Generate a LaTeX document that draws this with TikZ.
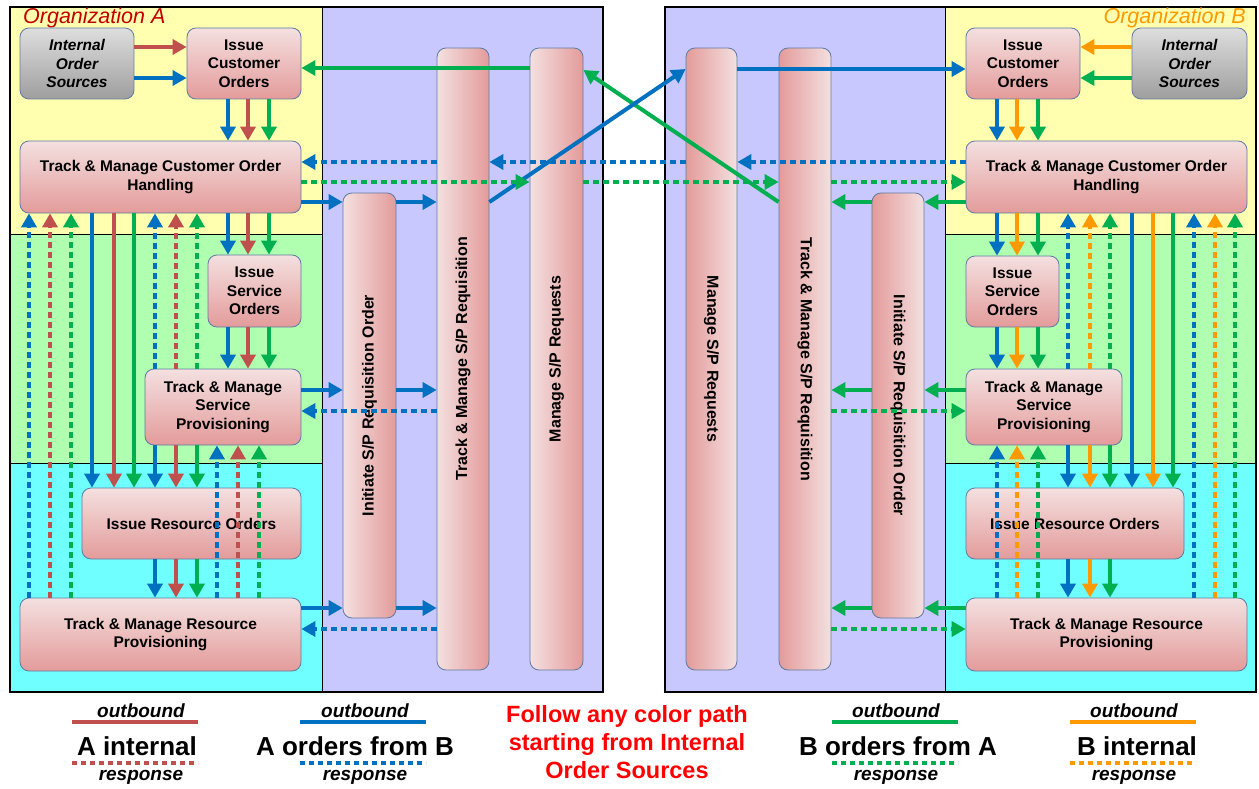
\documentclass[tikz,border=0pt]{standalone}
\usepackage{fontspec}
\setmainfont{Liberation Sans}
\usetikzlibrary{arrows.meta}
\definecolor{cblue}{HTML}{0070C0}
\definecolor{cred}{HTML}{C0504D}
\definecolor{cgreen}{HTML}{00B050}
\definecolor{corange}{HTML}{FF9900}
\definecolor{bgyellow}{HTML}{FFFFAF}
\definecolor{bggreen}{HTML}{B0FFB0}
\definecolor{bgcyan}{HTML}{70FFFF}
\definecolor{bgpurple}{HTML}{C8C8FF}
\definecolor{pinkT}{HTML}{F4E0E0}
\definecolor{pinkB}{HTML}{E39B9A}
\definecolor{grayT}{HTML}{DEDEDE}
\definecolor{grayB}{HTML}{9E9E9E}
\definecolor{edge}{HTML}{5F7BA3}
\definecolor{orgAcol}{HTML}{C00000}
\begin{document}
\begin{tikzpicture}[x=1pt,y=-1pt,
  box/.style={rectangle, rounded corners=9pt, draw=edge, line width=0.8pt,
    top color=pinkT, bottom color=pinkB, inner sep=2pt, align=center,
    font=\bfseries\fontsize{15.5}{18.5}\selectfont},
  srcbox/.style={box, top color=grayT, bottom color=grayB,
    font=\bfseries\itshape\fontsize{15.5}{18.5}\selectfont},
  barL/.style={rectangle, rounded corners=9pt, draw=edge, line width=0.8pt,
    left color=pinkT, right color=pinkB, inner sep=0pt},
  barR/.style={barL, left color=pinkB, right color=pinkT},
  bartext/.style={font=\bfseries\fontsize{16}{18}\selectfont, inner sep=0pt},
  arrowtip/.style={-{Triangle[length=14pt,width=15pt]}},
  sol/.style={line width=4pt, arrowtip},
  dotl/.style={line width=4pt, dash pattern=on 5.5pt off 4.5pt, arrowtip},
  lgsmall/.style={font=\bfseries\itshape\fontsize{19}{19}\selectfont, inner sep=0pt},
  lgbig/.style={font=\bfseries\fontsize{26}{26}\selectfont, inner sep=0pt},
  lgline/.style={line width=4.5pt},
  lgdots/.style={line width=4.5pt, dash pattern=on 5pt off 4pt}
]
\useasboundingbox (0,0) rectangle (1259,789);

% ---------- panels ----------
\fill[bgyellow] (10,7) rectangle (322,234);
\fill[bggreen]  (10,234) rectangle (322,463);
\fill[bgcyan]   (10,463) rectangle (322,692);
\fill[bgpurple] (322,7) rectangle (603,692);
\fill[bgpurple] (665,7) rectangle (945,692);
\fill[bgyellow] (945,7) rectangle (1256,234);
\fill[bggreen]  (945,234) rectangle (1256,463);
\fill[bgcyan]   (945,463) rectangle (1256,692);
\draw[line width=1.2pt] (10,7) rectangle (603,692);
\draw[line width=1.2pt] (665,7) rectangle (1256,692);
\draw[line width=1pt] (322,7) -- (322,692) (10,234) -- (322,234) (10,463) -- (322,463);
\draw[line width=1pt] (945,7) -- (945,692) (945,234) -- (1256,234) (945,463) -- (1256,463);

\node[anchor=west, inner sep=0pt, text=orgAcol, font=\itshape\fontsize{21.5}{21.5}\selectfont] (orgA) at (23,18) {Organization A};
\node[anchor=east, inner sep=0pt, text=corange, font=\itshape\fontsize{21.5}{21.5}\selectfont] (orgB) at (1246,18) {Organization B};

% ---------- organization A ----------
\node[srcbox, minimum width=114pt, minimum height=71pt] (iosA) at (77,63.5) {Internal\\Order\\Sources};
\node[box, minimum width=114pt, minimum height=71pt] (icoA) at (244,63.5) {Issue\\Customer\\Orders};
\node[box, minimum width=281pt, minimum height=72pt] (tmcA) at (160.5,177) {Track \& Manage Customer Order\\Handling};
\node[box, minimum width=93pt, minimum height=72pt] (isoA) at (254.5,291) {Issue\\Service\\Orders};
\node[box, minimum width=156pt, minimum height=76pt] (tmsA) at (223,407) {Track \& Manage\\Service\\Provisioning};
\node[box, minimum width=219pt, minimum height=71pt] (iroA) at (191.5,523.5) {Issue Resource Orders};
\node[box, minimum width=281pt, minimum height=73pt] (tmrA) at (160.5,634.5) {Track \& Manage Resource\\Provisioning};

% ---------- organization B ----------
\node[box, minimum width=114pt, minimum height=71pt] (icoB) at (1023,63.5) {Issue\\Customer\\Orders};
\node[srcbox, minimum width=115pt, minimum height=71pt] (iosB) at (1189.5,63.5) {Internal\\Order\\Sources};
\node[box, minimum width=281pt, minimum height=72pt] (tmcB) at (1106.5,177) {Track \& Manage Customer Order\\Handling};
\node[box, minimum width=93pt, minimum height=71pt] (isoB) at (1012.5,291.5) {Issue\\Service\\Orders};
\node[box, minimum width=156pt, minimum height=76pt] (tmsB) at (1044,407) {Track \& Manage\\Service\\Provisioning};
\node[box, minimum width=218pt, minimum height=71pt] (iroB) at (1075,523.5) {Issue Resource Orders};
\node[box, minimum width=281pt, minimum height=73pt] (tmrB) at (1106.5,634.5) {Track \& Manage Resource\\Provisioning};

% ---------- S/P bars ----------
\node[barL, minimum width=53pt, minimum height=425pt] (initA) at (369.5,405.5) {};
\node[barL, minimum width=52pt, minimum height=622pt] (trkA) at (463,359) {};
\node[barL, minimum width=53pt, minimum height=622pt] (mngA) at (556.5,359) {};
\node[barR, minimum width=51pt, minimum height=622pt] (mngB) at (711.5,359) {};
\node[barR, minimum width=52pt, minimum height=622pt] (trkB) at (805,359) {};
\node[barR, minimum width=52pt, minimum height=425pt] (initB) at (898,405.5) {};
\node[bartext, rotate=90] (initAt) at (initA) {Initiate S/P Requisition Order};
\node[bartext, rotate=90] (trkAt) at (trkA) {Track \& Manage S/P Requisition};
\node[bartext, rotate=90] (mngAt) at (mngA) {Manage S/P Requests};
\node[bartext, rotate=-90] (mngBt) at (mngB) {Manage S/P Requests};
\node[bartext, rotate=-90] (trkBt) at (trkB) {Track \& Manage S/P Requisition};
\node[bartext, rotate=-90] (initBt) at (initB) {Initiate S/P Requisition Order};

% ---------- top-level exchanges ----------
\draw[sol, cred]  (iosA.east |- 0,47) -- (icoA.west |- 0,47);
\draw[sol, cblue] (iosA.east |- 0,78) -- (icoA.west |- 0,78);
\draw[sol, corange] (iosB.west |- 0,47) -- (icoB.east |- 0,47);
\draw[sol, cgreen]  (iosB.west |- 0,78) -- (icoB.east |- 0,78);
\draw[sol, cgreen] (mngA.west |- 0,68) -- (icoA.east |- 0,68);
\draw[sol, cblue]  (mngB.east |- 0,69) -- (icoB.west |- 0,69);
\draw[sol, cgreen] (trkB.west |- 0,202) -- (mngA.east |- 0,70);
\draw[sol, cblue]  (trkA.east |- 0,202) -- (mngB.west |- 0,69);

% customer order level
\draw[dotl, cblue] (tmcB.west |- 0,162) -- (mngB.east |- 0,162);
\draw[dotl, cblue] (mngB.west |- 0,162) -- (trkA.east |- 0,162);
\draw[dotl, cblue] (trkA.west |- 0,162) -- (tmcA.east |- 0,162);
\draw[dotl, cgreen] (tmcA.east |- 0,182) -- (mngA.west |- 0,182);
\draw[dotl, cgreen] (mngA.east |- 0,182) -- (trkB.west |- 0,182);
\draw[dotl, cgreen] (trkB.east |- 0,182) -- (tmcB.west |- 0,182);
\draw[sol, cblue] (tmcA.east |- 0,202) -- (initA.west |- 0,202);
\draw[sol, cblue] (initA.east |- 0,202) -- (trkA.west |- 0,202);
\draw[sol, cgreen] (tmcB.west |- 0,202) -- (initB.east |- 0,202);
\draw[sol, cgreen] (initB.west |- 0,202) -- (trkB.east |- 0,202);

% service level
\draw[sol, cblue] (tmsA.east |- 0,390) -- (initA.west |- 0,390);
\draw[sol, cblue] (initA.east |- 0,390) -- (trkA.west |- 0,390);
\draw[dotl, cblue] (trkA.west |- 0,411) -- (tmsA.east |- 0,411);
\draw[sol, cgreen] (tmsB.west |- 0,390) -- (initB.east |- 0,390);
\draw[sol, cgreen] (initB.west |- 0,390) -- (trkB.east |- 0,390);
\draw[dotl, cgreen] (trkB.east |- 0,411) -- (tmsB.west |- 0,411);

% resource level
\draw[sol, cblue] (tmrA.east |- 0,608) -- (initA.west |- 0,608);
\draw[sol, cblue] (initA.east |- 0,608) -- (trkA.west |- 0,608);
\draw[dotl, cblue] (trkA.west |- 0,629) -- (tmrA.east |- 0,629);
\draw[sol, cgreen] (tmrB.west |- 0,608) -- (initB.east |- 0,608);
\draw[sol, cgreen] (initB.west |- 0,608) -- (trkB.east |- 0,608);
\draw[dotl, cgreen] (trkB.east |- 0,629) -- (tmrB.west |- 0,629);

% ---------- vertical flows, organization A ----------
\foreach \x/\c in {228/cblue,248/cred,269/cgreen}{
  \draw[sol, \c] (\x,0 |- icoA.south) -- (\x,0 |- tmcA.north);
  \draw[sol, \c] (\x,0 |- tmcA.south) -- (\x,0 |- isoA.north);
  \draw[sol, \c] (\x,0 |- isoA.south) -- (\x,0 |- tmsA.north);
}
\foreach \x/\c in {92/cblue,114/cred,134/cgreen}{
  \draw[sol, \c] (\x,0 |- tmcA.south) -- (\x,0 |- iroA.north);
}
\foreach \x/\c in {155/cblue,176/cred,197/cgreen}{
  \draw[sol, \c] (\x,0 |- tmsA.south) -- (\x,0 |- iroA.north);
  \draw[sol, \c] (\x,0 |- iroA.south) -- (\x,0 |- tmrA.north);
  \draw[dotl, \c] (\x,0 |- tmsA.north) -- (\x,0 |- tmcA.south);
}
\foreach \x/\c in {29/cblue,50/cred,71/cgreen}{
  \draw[dotl, \c] (\x,0 |- tmrA.north) -- (\x,0 |- tmcA.south);
}
\foreach \x/\c in {217/cblue,238/cred,259/cgreen}{
  \draw[dotl, \c] (\x,0 |- tmrA.north) -- (\x,0 |- tmsA.south);
}

% ---------- vertical flows, organization B ----------
\foreach \x/\c in {997/cblue,1017/corange,1038/cgreen}{
  \draw[sol, \c] (\x,0 |- icoB.south) -- (\x,0 |- tmcB.north);
  \draw[sol, \c] (\x,0 |- tmcB.south) -- (\x,0 |- isoB.north);
  \draw[sol, \c] (\x,0 |- isoB.south) -- (\x,0 |- tmsB.north);
  \draw[dotl, \c] (\x,0 |- tmrB.north) -- (\x,0 |- tmsB.south);
}
\foreach \x/\c in {1068/cblue,1090/corange,1110/cgreen}{
  \draw[dotl, \c] (\x,0 |- tmsB.north) -- (\x,0 |- tmcB.south);
  \draw[sol, \c] (\x,0 |- tmsB.south) -- (\x,0 |- iroB.north);
  \draw[sol, \c] (\x,0 |- iroB.south) -- (\x,0 |- tmrB.north);
}
\foreach \x/\c in {1132/cblue,1153/corange,1173/cgreen}{
  \draw[sol, \c] (\x,0 |- tmcB.south) -- (\x,0 |- iroB.north);
}
\foreach \x/\c in {1194/cblue,1215/corange,1235/cgreen}{
  \draw[dotl, \c] (\x,0 |- tmrB.north) -- (\x,0 |- tmcB.south);
}

% ---------- legend ----------
\node[lgsmall] (obA) at (141,711) {outbound};
\draw[lgline, cred] (72,722) -- (198,722);
\node[lgbig] (lgA) at (137,746) {A internal};
\draw[lgdots, cred] (72,763) -- (198,763);
\node[lgsmall] (rsA) at (141,777) {response};

\node[lgsmall] (obAB) at (365,711) {outbound};
\draw[lgline, cblue] (300,722) -- (426,722);
\node[lgbig] (lgAB) at (355,746) {A orders from B};
\draw[lgdots, cblue] (300,763) -- (426,763);
\node[lgsmall] (rsAB) at (365,777) {response};

\node[align=center, text=red, inner sep=0pt, font=\bfseries\fontsize{23.5}{28}\selectfont] (note) at (627,742) {Follow any color path\\starting from Internal\\Order Sources};

\node[lgsmall] (obBA) at (896,711) {outbound};
\draw[lgline, cgreen] (832,722) -- (958,722);
\node[lgbig] (lgBA) at (898,746) {B orders from A};
\draw[lgdots, cgreen] (832,763) -- (958,763);
\node[lgsmall] (rsBA) at (896,777) {response};

\node[lgsmall] (obB) at (1134,711) {outbound};
\draw[lgline, corange] (1070,722) -- (1196,722);
\node[lgbig] (lgB) at (1137,746) {B internal};
\draw[lgdots, corange] (1070,763) -- (1196,763);
\node[lgsmall] (rsB) at (1134,777) {response};
\end{tikzpicture}
\end{document}
